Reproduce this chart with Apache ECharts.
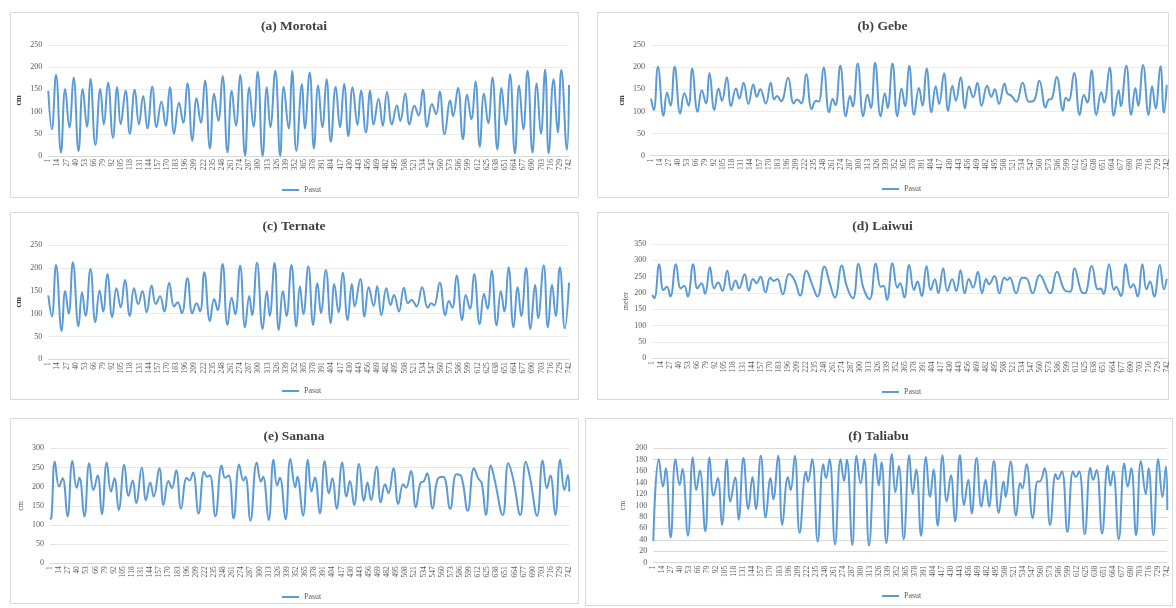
<!DOCTYPE html>
<html>
<head>
<meta charset="utf-8">
<script src="https://cdn.jsdelivr.net/npm/echarts@6/dist/echarts.min.js"></script>
<style>
  html, body { margin: 0; padding: 0; background: #ffffff; }
  #chart { width: 1176px; height: 608px; }
</style>
</head>
<body>
<div id="chart"></div>
<script>
// Hour index along the x axis (1 .. 742)
const categories = Array.from({ length: 742 }, (_, i) => String(i + 1));

// Tide turning points (hour, water level) for each station
const morotaiHours = [1,6,12,19,25,31,37,44,50,56,61,68,75,80,86,93,99,104,111,117,124,130,136,142,149,155,162,168,174,180,187,193,199,206,212,218,224,231,237,243,249,256,262,268,274,281,287,293,299,306,312,317,324,331,336,343,348,354,362,366,373,379,385,391,397,403,410,416,422,428,434,441,446,453,459,464,471,477,483,490,497,502,509,515,522,528,534,540,547,553,558,565,573,577,584,591,597,603,609,615,621,627,633,640,646,652,658,665,671,677,683,690,696,702,708,713,720,726,731,739,742];
const morotaiLevels = [147,60,183,8,151,64,177,11,151,66,174,25,151,71,165,41,155,72,147,50,149,71,135,62,156,65,123,68,155,50,120,75,164,34,130,75,170,17,140,79,180,8,147,68,183,1,154,66,190,0,155,65,192,0,156,62,192,11,162,62,188,17,159,65,173,32,156,65,162,45,155,70,147,53,147,71,129,68,144,71,114,79,141,71,113,91,149,66,117,94,145,49,125,90,153,38,138,83,168,21,141,74,177,15,153,70,184,6,159,60,192,8,164,50,194,6,173,53,194,14,160];

const gebeHours = [1,5,11,19,24,29,35,43,49,55,60,68,74,80,85,92,98,103,110,116,123,128,134,141,148,153,158,166,173,178,182,188,198,206,211,217,224,232,238,242,249,257,262,266,273,281,287,291,298,306,312,317,323,331,337,341,348,355,361,366,372,379,386,391,397,404,410,415,422,428,434,439,446,452,458,464,470,476,484,490,495,501,509,513,519,526,535,544,551,559,568,572,577,584,593,597,601,609,617,623,628,634,641,648,652,660,666,673,676,684,691,697,701,708,716,721,726,733,738,742];
const gebeLevels = [129,103,201,90,143,113,201,95,141,113,197,99,148,118,187,103,152,124,177,112,152,129,165,117,161,133,150,118,165,127,135,123,176,118,127,118,184,105,124,122,199,98,128,114,203,89,135,111,208,89,138,108,210,89,141,108,208,89,152,112,203,92,153,113,197,98,157,117,186,101,158,124,177,107,156,132,165,113,158,133,150,117,163,141,135,122,165,122,124,169,109,126,129,178,102,131,124,187,92,137,120,193,92,144,120,199,90,148,112,203,92,153,113,205,92,157,107,202,97,160];

const ternateHours = [1,6,12,20,25,30,36,44,49,54,61,68,74,79,85,92,98,104,110,117,123,129,135,141,148,154,160,166,173,180,185,191,199,206,212,217,223,231,237,242,249,256,262,267,274,281,287,291,298,306,312,316,323,329,335,340,347,354,359,364,371,378,384,389,396,403,408,414,420,427,433,437,445,451,457,464,469,475,482,488,493,500,507,513,518,525,533,541,546,550,558,566,571,576,582,590,595,601,607,615,621,626,632,639,645,650,656,663,669,674,681,687,694,698,706,712,718,723,729,736,742];
const ternateLevels = [140,94,207,62,150,100,213,72,147,95,198,81,151,105,187,92,156,114,174,95,156,121,150,103,162,121,138,105,168,116,125,101,178,101,123,105,191,84,132,108,209,75,135,99,205,70,139,97,212,66,149,95,211,64,149,95,207,72,160,99,204,75,167,102,196,79,165,103,190,86,165,116,176,94,158,117,160,97,156,119,141,105,157,123,130,116,158,113,123,118,168,97,128,113,184,86,141,111,187,77,143,111,195,74,149,105,202,70,158,95,200,66,163,90,206,70,163,95,202,68,168];

const laiwuiHours = [1,4,11,17,22,27,35,42,47,52,60,66,72,77,84,90,96,102,109,115,121,126,134,140,146,151,157,164,171,176,181,189,198,206,214,223,231,239,249,257,264,274,281,290,298,305,314,323,330,334,339,347,354,358,364,371,378,383,389,396,402,408,413,420,426,433,439,445,451,457,463,470,476,482,486,494,501,508,512,516,525,534,540,549,559,574,584,595,603,609,619,624,634,643,647,651,659,666,669,676,683,690,694,700,707,713,718,724,732,738,742];
const laiwuiLevels = [194,184,288,209,219,189,288,214,222,189,288,214,230,197,279,214,232,206,268,209,238,214,257,207,243,230,250,202,247,237,243,196,258,238,192,268,227,189,281,227,186,284,221,184,289,216,181,290,219,222,179,291,216,230,186,286,209,235,191,283,209,242,199,276,206,242,206,270,199,243,216,265,199,243,227,252,199,247,240,247,199,247,245,199,255,199,265,209,204,276,204,199,283,211,214,197,288,209,219,191,288,216,227,189,288,211,235,189,286,211,243];

const sananaHours = [1,3,8,14,19,26,33,39,43,50,57,63,69,75,82,88,93,99,107,113,119,124,132,138,144,149,157,163,170,175,181,188,196,200,205,213,221,225,229,237,246,251,256,263,271,277,280,287,296,302,305,313,320,325,329,337,344,351,354,362,369,374,379,386,393,399,404,410,418,424,429,435,442,449,454,459,467,473,479,484,491,498,505,509,516,523,530,534,539,547,554,562,572,581,588,597,606,612,617,623,630,635,647,655,662,672,680,686,696,704,710,715,722,729,735,740,742];
const sananaLevels = [115,119,265,200,222,122,267,197,223,122,261,191,229,128,263,187,222,139,257,176,216,157,250,165,211,174,248,152,215,196,243,142,223,216,237,130,239,226,230,123,255,223,229,117,258,216,226,111,263,213,226,113,271,203,223,115,272,198,226,124,270,187,224,130,267,183,222,142,263,174,215,152,259,163,211,165,252,159,206,183,248,155,206,197,241,146,211,213,235,143,219,226,142,232,226,137,248,222,209,126,255,222,126,261,219,126,265,223,124,268,196,229,126,270,191,230,187];

const taliabuHours = [1,9,15,19,26,33,39,43,51,58,63,68,76,82,88,94,100,107,112,119,124,131,138,144,149,156,163,170,174,181,187,195,199,205,212,221,224,230,238,246,250,255,263,271,276,280,288,294,300,305,312,321,326,330,337,345,350,355,362,370,375,380,387,394,400,405,411,418,424,430,436,443,449,455,460,467,474,480,485,492,499,506,509,516,524,530,533,539,548,555,558,565,573,581,584,590,598,606,610,615,623,631,635,640,648,656,660,664,672,680,685,690,697,704,711,715,722,729,735,740,742];
const taliabuLevels = [38,181,133,165,44,181,136,164,47,184,127,161,55,184,117,148,66,181,107,149,75,183,94,150,94,187,79,148,111,187,66,150,127,187,52,159,142,181,37,172,148,181,32,181,143,180,31,187,139,181,30,190,135,176,34,190,123,169,41,188,120,163,47,185,115,163,65,188,107,153,72,188,101,145,86,183,98,145,98,178,87,142,115,177,82,139,130,172,78,142,142,165,66,155,146,160,54,160,150,160,50,166,145,162,51,170,135,160,41,174,133,165,48,178,120,165,48,181,115,168,92];

const SERIF = '"Liberation Serif", "Times New Roman", serif';
const LINE_BLUE = '#5B9BD5';
const TEXT_GREY = '#595959';

// Layout of the six small multiples
const panels = [
  { title: '(a) Morotai', unit: 'cm', hours: morotaiHours, levels: morotaiLevels, max: 250, step: 50,
    box: [10, 12, 568, 185], grid: [48.3, 45, 520.7, 111], titleY: 27, legend: [277, 181],
    nameGap: 25, unitBold: true, split: '#ebebeb' },
  { title: '(b) Gebe', unit: 'cm', hours: gebeHours, levels: gebeLevels, max: 250, step: 50,
    box: [597, 12, 571, 185], grid: [651, 45, 515.7, 110.7], titleY: 27, legend: [877, 180],
    nameGap: 25, unitBold: true, split: '#ebebeb' },
  { title: '(c) Ternate', unit: 'cm', hours: ternateHours, levels: ternateLevels, max: 250, step: 50,
    box: [10, 212, 568, 187], grid: [48.3, 245.3, 520.7, 114], titleY: 227, legend: [277, 382],
    nameGap: 25, unitBold: true, split: '#ebebeb' },
  { title: '(d) Laiwui', unit: 'meter', hours: laiwuiHours, levels: laiwuiLevels, max: 350, step: 50,
    box: [597, 212, 571, 187], grid: [652.3, 244, 514.4, 114.3], titleY: 227, legend: [877, 383],
    nameGap: 22, unitBold: false, split: '#ebebeb' },
  { title: '(e) Sanana', unit: 'cm', hours: sananaHours, levels: sananaLevels, max: 300, step: 50,
    box: [10, 418, 568, 185], grid: [50, 448.3, 519.3, 115], titleY: 437, legend: [277, 588],
    nameGap: 25, unitBold: false, split: '#e6e6e6' },
  { title: '(f) Taliabu', unit: 'cm', hours: taliabuHours, levels: taliabuLevels, max: 200, step: 20,
    box: [585, 418, 587, 187], grid: [653.3, 448.3, 514, 114.4], titleY: 437, legend: [877, 587],
    nameGap: 26, unitBold: false, split: '#d9d9d9' }
];

const option = {
  animation: false,
  backgroundColor: '#ffffff',
  grid: [], xAxis: [], yAxis: [], series: [], legend: [], graphic: []
};

panels.forEach((p, i) => {
  option.grid.push({ left: p.grid[0], top: p.grid[1], width: p.grid[2], height: p.grid[3] });

  option.xAxis.push({
    type: 'category', gridIndex: i, data: categories, boundaryGap: false,
    axisLine: { show: true, lineStyle: { color: '#d9d9d9', width: 1 } },
    axisTick: { show: false },
    axisLabel: { interval: 12, rotate: 90, margin: 3, fontSize: 7.5, color: TEXT_GREY, fontFamily: SERIF },
    splitLine: { show: false }
  });

  option.yAxis.push({
    type: 'value', gridIndex: i, min: 0, max: p.max, interval: p.step,
    name: p.unit, nameLocation: 'middle', nameGap: p.nameGap, nameRotate: 90,
    nameTextStyle: { fontFamily: SERIF, fontSize: 8, color: p.unitBold ? '#404040' : TEXT_GREY,
      fontWeight: p.unitBold ? 'bold' : 'normal' },
    axisLine: { show: false }, axisTick: { show: false },
    axisLabel: { margin: 6, fontSize: 8, color: TEXT_GREY, fontFamily: SERIF },
    splitLine: { lineStyle: { color: p.split, width: 1 } }
  });

  option.series.push({
    type: 'line', name: 'Pasut', xAxisIndex: i, yAxisIndex: i,
    data: p.hours.map((h, k) => [h - 1, p.levels[k]]),
    smooth: 0.45, showSymbol: false, symbol: 'none',
    lineStyle: { color: LINE_BLUE, width: 2 }, itemStyle: { color: LINE_BLUE }
  });

  option.legend.push({
    data: ['Pasut'], left: p.legend[0], top: p.legend[1], selectedMode: false,
    icon: 'rect', itemWidth: 17, itemHeight: 2,
    textStyle: { fontFamily: SERIF, fontSize: 8, color: TEXT_GREY }
  });

  option.graphic.push({
    type: 'rect', silent: true, z: -10,
    shape: { x: p.box[0] + 0.5, y: p.box[1] + 0.5, width: p.box[2], height: p.box[3] },
    style: { fill: 'none', stroke: '#d9d9d9', lineWidth: 1 }
  });
  option.graphic.push({
    type: 'text', silent: true,
    x: p.box[0] + p.box[2] / 2, y: p.titleY,
    style: { text: p.title, font: 'bold 13.5px ' + SERIF, fill: '#404040', align: 'center', verticalAlign: 'middle' }
  });
});

const chart = echarts.init(document.getElementById('chart'), null, { renderer: 'canvas' });
chart.setOption(option);
</script>
</body>
</html>
